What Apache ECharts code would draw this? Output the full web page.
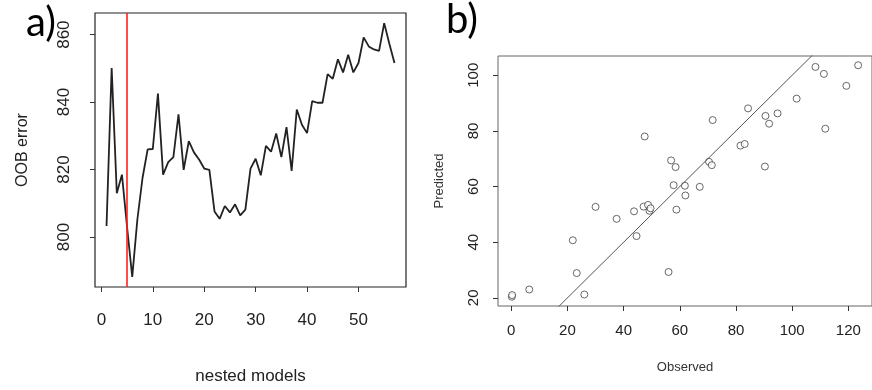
<!DOCTYPE html>
<html>
<head>
<meta charset="utf-8">
<script src="https://cdn.jsdelivr.net/npm/echarts@6/dist/echarts.min.js"></script>
<style>
  html, body { margin: 0; padding: 0; background: #fff; }
  #chart { width: 872px; height: 390px; }
</style>
</head>
<body>
<div id="chart"></div>
<script>
// a) OOB error for nested models 1..57
const oobError = [803.3, 850.1, 813, 818.5, 802.9, 788.2, 805.2, 817.5, 826, 826.1,
  842.5, 818.5, 822.2, 823.7, 836.4, 819.9, 828.4, 825.1, 823, 820.3,
  819.9, 807.6, 805.4, 809.2, 807.3, 809.7, 806.4, 808.1, 820.3, 823.2,
  818.3, 827, 825.3, 830.7, 823.7, 832.6, 819.6, 837.8, 833.3, 830.8,
  840.3, 839.8, 839.8, 848.3, 846.9, 852.7, 848.8, 854, 848.8, 851.6,
  859.2, 856.5, 855.6, 855.2, 863.4, 857.3, 851.6];
const selectedModel = 5;
const xTicksA = [0, 10, 20, 30, 40, 50];
const yTicksA = [800, 820, 840, 860];

// b) observed vs predicted
const observed = [0.2, 0.3, 6.4, 26.0, 23.3, 21.9, 30.0, 37.5, 43.7, 44.6,
  47.1, 48.7, 49.2, 49.6, 58.8, 56.0, 57.8, 61.8, 67.1, 62.0,
  56.9, 58.5, 70.4, 71.4, 47.5, 71.7, 81.6, 83.1, 84.3, 90.3,
  90.5, 91.8, 94.8, 101.6, 108.3, 111.3, 111.8, 119.3, 123.5];
const predicted = [20.4, 21.0, 23.0, 21.2, 28.9, 40.7, 52.7, 48.4, 51.1, 42.2,
  52.8, 53.4, 51.3, 52.2, 51.7, 29.3, 60.5, 60.3, 59.9, 56.8,
  69.4, 67.0, 68.9, 67.7, 78.0, 83.9, 74.7, 75.3, 88.1, 67.2,
  85.4, 82.6, 86.3, 91.6, 103.0, 100.5, 80.8, 96.2, 103.6];
const xTicksB = [0, 20, 40, 60, 80, 100, 120];
const yTicksB = [20, 40, 60, 80, 100];

const font = 'Liberation Sans, Arial, sans-serif';
const chart = echarts.init(document.getElementById('chart'), null, { renderer: 'canvas' });

const lineData = oobError.map((v, i) => [i + 1, v]);
const pointData = observed.map((v, i) => [v, predicted[i]]);

// R style: 4% padding around the data range
function pad(lo, hi) {
  const d = (hi - lo) * 0.04;
  return [lo - d, hi + d];
}
const xA = pad(1, oobError.length);
const yA = pad(Math.min(...oobError), Math.max(...oobError));
const xB = pad(Math.min(...observed), Math.max(...observed));
const yB = pad(Math.min(...predicted), Math.max(...predicted));

function axisCommon(ticks, size, margin, rotate) {
  return {
    axisLine: { show: false, onZero: false },
    splitLine: { show: false },
    axisTick: { show: true, length: 5, customValues: ticks, lineStyle: { color: '#333' } },
    axisLabel: { customValues: ticks, color: '#222', fontFamily: font, fontSize: size, margin: margin, rotate: rotate || 0 }
  };
}

chart.setOption({
  backgroundColor: '#fff',
  animation: false,
  grid: [
    { left: 95, top: 13, width: 311, height: 288, show: true, borderColor: '#222', borderWidth: 1.2 },
    { left: 498, top: 56, width: 378, height: 250, show: true, borderColor: '#666', borderWidth: 1 }
  ],
  xAxis: [
    Object.assign({
      type: 'value', gridIndex: 0, min: xA[0], max: xA[1],
      name: 'nested models', nameLocation: 'middle', nameGap: 81,
      nameTextStyle: { color: '#222', fontFamily: font, fontSize: 17 }
    }, axisCommon(xTicksA, 17, 25)),
    Object.assign({
      type: 'value', gridIndex: 1, min: xB[0], max: xB[1],
      name: 'Observed', nameLocation: 'middle', nameGap: 55,
      nameTextStyle: { color: '#333', fontFamily: font, fontSize: 13 }
    }, axisCommon(xTicksB, 15, 17))
  ],
  yAxis: [
    Object.assign({
      type: 'value', gridIndex: 0, min: yA[0], max: yA[1],
      name: 'OOB error', nameLocation: 'middle', nameGap: 64,
      nameTextStyle: { color: '#222', fontFamily: font, fontSize: 16 }
    }, axisCommon(yTicksA, 17, 22, 90)),
    Object.assign({
      type: 'value', gridIndex: 1, min: yB[0], max: yB[1],
      name: 'Predicted', nameLocation: 'middle', nameGap: 52,
      nameTextStyle: { color: '#333', fontFamily: font, fontSize: 13 }
    }, axisCommon(yTicksB, 15, 17, 90))
  ],
  series: [
    {
      type: 'line', xAxisIndex: 0, yAxisIndex: 0, data: lineData,
      showSymbol: false, lineStyle: { color: '#222', width: 1.8 },
      markLine: {
        silent: true, symbol: 'none', label: { show: false },
        lineStyle: { color: '#ff2020', width: 1.6, type: 'solid' },
        data: [{ xAxis: selectedModel }]
      }
    },
    {
      type: 'line', xAxisIndex: 1, yAxisIndex: 1, clip: true,
      data: [[xB[0] - 20, xB[0] - 20], [xB[1] + 20, xB[1] + 20]],
      showSymbol: false, lineStyle: { color: '#555', width: 1 }
    },
    {
      type: 'scatter', xAxisIndex: 1, yAxisIndex: 1, data: pointData,
      symbol: 'circle', symbolSize: 7,
      itemStyle: { color: '#fff', borderColor: '#444', borderWidth: 1 }
    }
  ],
  graphic: [
    { type: 'text', left: 26, top: 3, style: { text: 'a)', font: '40px Lato, sans-serif', fill: '#000' } },
    { type: 'text', left: 446, top: 0, style: { text: 'b)', font: '40px Lato, sans-serif', fill: '#000' } }
  ]
});
</script>
</body>
</html>
